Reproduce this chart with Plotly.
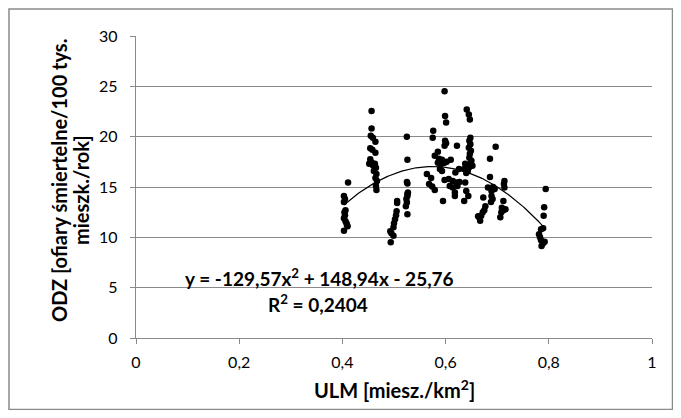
import numpy as np
import plotly.graph_objects as go

# ULM values (x) and ODZ values (y)
ulm = [0.403, 0.405, 0.403, 0.406, 0.404, 0.405, 0.403, 0.406, 0.408, 0.410, 0.403, 0.411, 0.409,
       0.4565, 0.4565, 0.455, 0.459, 0.464, 0.454, 0.458, 0.464, 0.454, 0.457, 0.459, 0.463, 0.452,
       0.465, 0.461, 0.466, 0.464, 0.467, 0.465, 0.466, 0.460,
       0.4928, 0.495, 0.499, 0.4937, 0.499, 0.500, 0.502, 0.504, 0.505, 0.506, 0.506,
       0.5249, 0.526, 0.525, 0.526, 0.527, 0.526, 0.524, 0.525, 0.523, 0.526, 0.526,
       0.598, 0.599, 0.601, 0.576, 0.575, 0.599, 0.601, 0.598, 0.622, 0.585, 0.579, 0.587, 0.593,
       0.610, 0.585, 0.592, 0.598, 0.602, 0.589, 0.593, 0.619, 0.626, 0.5637, 0.572, 0.598, 0.606,
       0.614, 0.621, 0.627, 0.568, 0.574, 0.579, 0.614, 0.618, 0.618, 0.608, 0.595, 0.636, 0.623,
       0.641, 0.645, 0.647, 0.638, 0.640, 0.644, 0.648, 0.646, 0.648, 0.645, 0.649, 0.647, 0.646,
       0.650, 0.648, 0.645, 0.643, 0.640, 0.638, 0.636, 0.652,
       0.697, 0.686, 0.686, 0.682, 0.692, 0.689, 0.695, 0.689, 0.691, 0.688, 0.673, 0.677, 0.675,
       0.672, 0.669, 0.665, 0.663, 0.667,
       0.714, 0.713, 0.714, 0.712, 0.709, 0.712, 0.708, 0.706, 0.716,
       0.794, 0.791, 0.790, 0.789, 0.785, 0.781, 0.783, 0.785, 0.786, 0.789, 0.792]
odz = [14.1, 13.8, 13.5, 12.7, 12.5, 12.2, 11.9, 11.6, 11.4, 11.1, 10.65, 15.45, 11.2,
       22.55, 20.8, 20.1, 19.9, 19.5, 18.85, 18.7, 18.4, 17.75, 17.4, 17.2, 17.3, 17.3,
       16.9, 16.6, 16.3, 15.9, 15.6, 15.1, 14.7, 17.1,
       10.6, 10.4, 10.15, 9.5, 11.0, 11.4, 11.8, 12.2, 12.6, 13.4, 13.6,
       20.0, 17.7, 15.5, 15.35, 14.45, 14.1, 13.8, 13.45, 13.1, 12.3, 14.3,
       24.5, 22.05, 21.4, 20.6, 19.9, 19.6, 19.35, 19.1, 19.1, 18.5, 18.1, 17.8, 17.7,
       17.7, 17.4, 17.3, 17.4, 17.5, 16.8, 16.6, 16.45, 16.8, 16.3, 15.9, 15.7, 15.8,
       15.6, 15.45, 15.5, 15.3, 15.05, 14.7, 14.95, 14.45, 14.1, 15.1, 13.6, 13.6, 15.1,
       22.7, 22.2, 21.7, 15.45, 14.6, 14.1, 19.9, 19.6, 19.25, 18.9, 18.6, 18.3, 17.9,
       17.6, 17.3, 16.9, 16.6, 16.4, 17.3, 16.8, 17.1,
       19.0, 17.8, 16.0, 14.95, 15.0, 14.6, 14.8, 14.1, 13.8, 13.5, 13.95, 13.1, 12.7,
       12.5, 12.15, 12.0, 12.1, 11.65,
       15.6, 15.3, 14.95, 13.6, 12.95, 12.7, 12.5, 12.0, 12.8,
       14.8, 13.0, 12.15, 10.9, 10.8, 10.3, 10.0, 9.7, 9.15, 9.4, 9.55]

# Trendline coefficients as printed on the chart
coef_a, coef_b, coef_c = -129.57, 148.94, -25.76
equation_text = "y = -129,57x<sup>2</sup> + 148,94x - 25,76"
r2_text = "R<sup>2</sup> = 0,2404"

x_ticks = [0, 0.2, 0.4, 0.6, 0.8, 1]
x_tick_labels = ["0", "0,2", "0,4", "0,6", "0,8", "1"]
y_ticks = [0, 5, 10, 15, 20, 25, 30]

x_title = "ULM [miesz./km<sup>2</sup>]"
y_title_line1 = "ODZ [ofiary śmiertelne/100 tys."
y_title_line2 = "mieszk./rok]"

# page has an 8px body margin; figure occupies 8..673 x 8..410 of the window
OFF = 8
W, H = 665, 402
L, T = 136 - OFF, 36 - OFF
R = W - (652 - OFF)
B = H - (338 - OFF)
pw, ph = W - L - R, H - T - B

def px(x):  # window pixel -> paper x
    return (x - OFF - L) / pw

def py(y):  # window pixel -> paper y
    return (H - B - (y - OFF)) / ph

FONT = "Lato"
GRAY = "#8a8a8a"

tx = np.linspace(min(ulm), max(ulm), 200)
ty = coef_a * tx ** 2 + coef_b * tx + coef_c

fig = go.Figure()
fig.add_trace(go.Scatter(x=tx, y=ty, mode="lines",
                         line=dict(color="black", width=1.2), hoverinfo="skip"))
fig.add_trace(go.Scatter(x=ulm, y=odz, mode="markers",
                         marker=dict(color="black", size=6.5)))

def ann(text, x, y, size, angle=0):
    return dict(text="<b>" + text + "</b>", xref="paper", yref="paper", x=px(x), y=py(y),
                xanchor="center", yanchor="middle", showarrow=False, textangle=angle,
                font=dict(size=size, family=FONT, color="black"))

fig.update_layout(
    width=W, height=H,
    margin=dict(l=L, r=R, t=T, b=B, pad=0),
    paper_bgcolor="white", plot_bgcolor="white",
    showlegend=False,
    font=dict(family=FONT, color="black"),
    xaxis=dict(range=[0, 1], tickvals=x_ticks, ticktext=x_tick_labels,
               showgrid=False, zeroline=False, showline=True, linecolor=GRAY, linewidth=1.3,
               ticks="outside", ticklen=5, tickcolor=GRAY, tickwidth=1.3,
               ticklabelstandoff=5,
               tickfont=dict(size=16, family=FONT), fixedrange=True),
    yaxis=dict(range=[0, 30], tickvals=y_ticks,
               showgrid=True, gridcolor=GRAY, gridwidth=1.3, zeroline=False,
               showline=True, linecolor=GRAY, linewidth=1.3,
               ticks="outside", ticklen=5, tickcolor=GRAY, tickwidth=1.3,
               ticklabelstandoff=9,
               tickfont=dict(size=16, family=FONT), fixedrange=True),
    shapes=[dict(type="rect", xref="paper", yref="paper",
                 x0=px(9), x1=px(672.5), y0=py(409.5), y1=py(9),
                 line=dict(color=GRAY, width=1.5), fillcolor="rgba(0,0,0,0)", layer="below")],
    annotations=[
        ann(x_title, 394, 389, 20),
        ann(y_title_line1, 59, 181, 20, -90),
        ann(y_title_line2, 81, 190, 20, -90),
        ann(equation_text, 319, 277, 19),
        ann(r2_text, 318, 303, 19),
    ],
)

fig.write_html("out.html")
